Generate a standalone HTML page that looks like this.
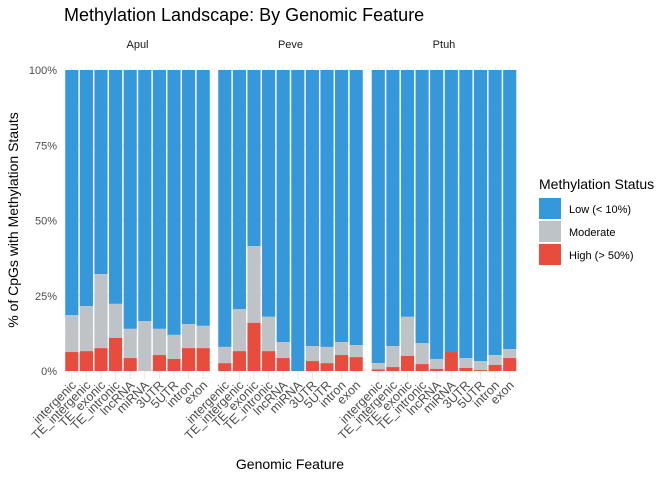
<!DOCTYPE html>
<html><head><meta charset="utf-8"><style>
body{margin:0;background:#fff;}
svg{font-family:"Liberation Sans",sans-serif;}
</style></head><body>
<svg id="chart" width="672" height="480">
<text x="64" y="21" font-size="18" fill="#000">Methylation Landscape: By Genomic Feature</text>
<g id="plot"></g>
<text x="290" y="469" text-anchor="middle" font-size="14" fill="#000">Genomic Feature</text>
<text transform="translate(18,220) rotate(-90)" text-anchor="middle" font-size="14" fill="#000">% of CpGs with Methylation Stauts</text>
<g>
<text x="539" y="189" font-size="14" fill="#000">Methylation Status</text>
<rect x="539" y="198" width="22" height="21" fill="#3498DB"/>
<text x="569" y="213" font-size="11" fill="#000">Low (&lt; 10%)</text>
<rect x="539" y="221" width="22" height="21" fill="#BDC3C7"/>
<text x="569" y="236" font-size="11" fill="#000">Moderate</text>
<rect x="539" y="244" width="22" height="21" fill="#E74C3C"/>
<text x="569" y="259" font-size="11" fill="#000">High (&gt; 50%)</text>
</g>
</svg>
<script>
const species = ["Apul","Peve","Ptuh"];
const categories = ["intergenic","TE_intergenic","TE_exonic","TE_intronic","lncRNA","miRNA","3UTR","5UTR","intron","exon"];
const highApul = [6.3,6.6,7.6,11,4.3,0,5.3,4,7.6,7.6];
const modApul  = [12.3,15,24.6,11.3,9.7,16.6,8.7,8,8,7.4];
const highPeve = [2.6,6.6,16,6.6,4.3,0,3.3,2.6,5.3,4.6];
const modPeve  = [5.4,14,25.5,11.4,5.3,0,5,5.4,4.3,4];
const highPtuh = [0.5,1.3,5,2.3,0.7,6.3,1,0.3,2,4.3];
const modPtuh  = [2.1,7,13,7,3.3,0,3.3,3,3.3,3];
const yTicks = [0,25,50,75,100];
const yTickLabels = ["0%","25%","50%","75%","100%"];
const highs=[highApul,highPeve,highPtuh], mods=[modApul,modPeve,modPtuh];
const NS="http://www.w3.org/2000/svg";
const g=document.getElementById("plot");
const panelX=[64.5,217.5,371], panelW=146, y0=371, y1=70;
const y=v=>y0-(y0-y1)*v/100;
const step=panelW/categories.length, bw=step*0.9;
function mk(t,a){const e=document.createElementNS(NS,t);for(const k in a)e.setAttribute(k,a[k]);g.appendChild(e);return e;}
yTicks.forEach((t,i)=>{
 const tl=mk("text",{x:57,y:y(t)+4,"text-anchor":"end","font-size":"11",fill:"#4d4d4d"});
 tl.textContent=yTickLabels[i];
 
 
});
species.forEach((sp,p)=>{
 const px=panelX[p];
 for(let t=0;t<100;t+=12.5){
  const l=mk("line",{x1:px,x2:px+panelW,y1:y(t),y2:y(t),stroke:"#ebebeb","stroke-width":t%25?0.6:1.1});
  
  
 }
 const st=mk("text",{x:px+panelW/2,y:48,"text-anchor":"middle","font-size":"11",fill:"#1a1a1a"});
 st.textContent=sp;
 
 
 categories.forEach((c,i)=>{
  const cx=px+step*(i+0.5);
  const vl=mk("line",{x1:cx,x2:cx,y1:y1-3,y2:y0+8,stroke:"#ebebeb","stroke-width":1.1});
  
  
  const h=highs[p][i], m=mods[p][i];
  const low=mk("rect",{x:cx-bw/2,y:y(100),width:bw,height:y(h+m)-y(100),fill:"#3498DB"});
  
  
  const mo=mk("rect",{x:cx-bw/2,y:y(h+m),width:bw,height:y(h)-y(h+m),fill:"#BDC3C7"});
  
  
  const hi=mk("rect",{x:cx-bw/2,y:y(h),width:bw,height:y(0)-y(h),fill:"#E74C3C"});
  
  
  const tx=mk("text",{transform:`translate(${cx+5},${y0+15}) rotate(-45)`,"text-anchor":"end","font-size":"12.5",fill:"#4d4d4d"});
  tx.textContent=c;
  
  
 });
});
</script>
</body></html>
